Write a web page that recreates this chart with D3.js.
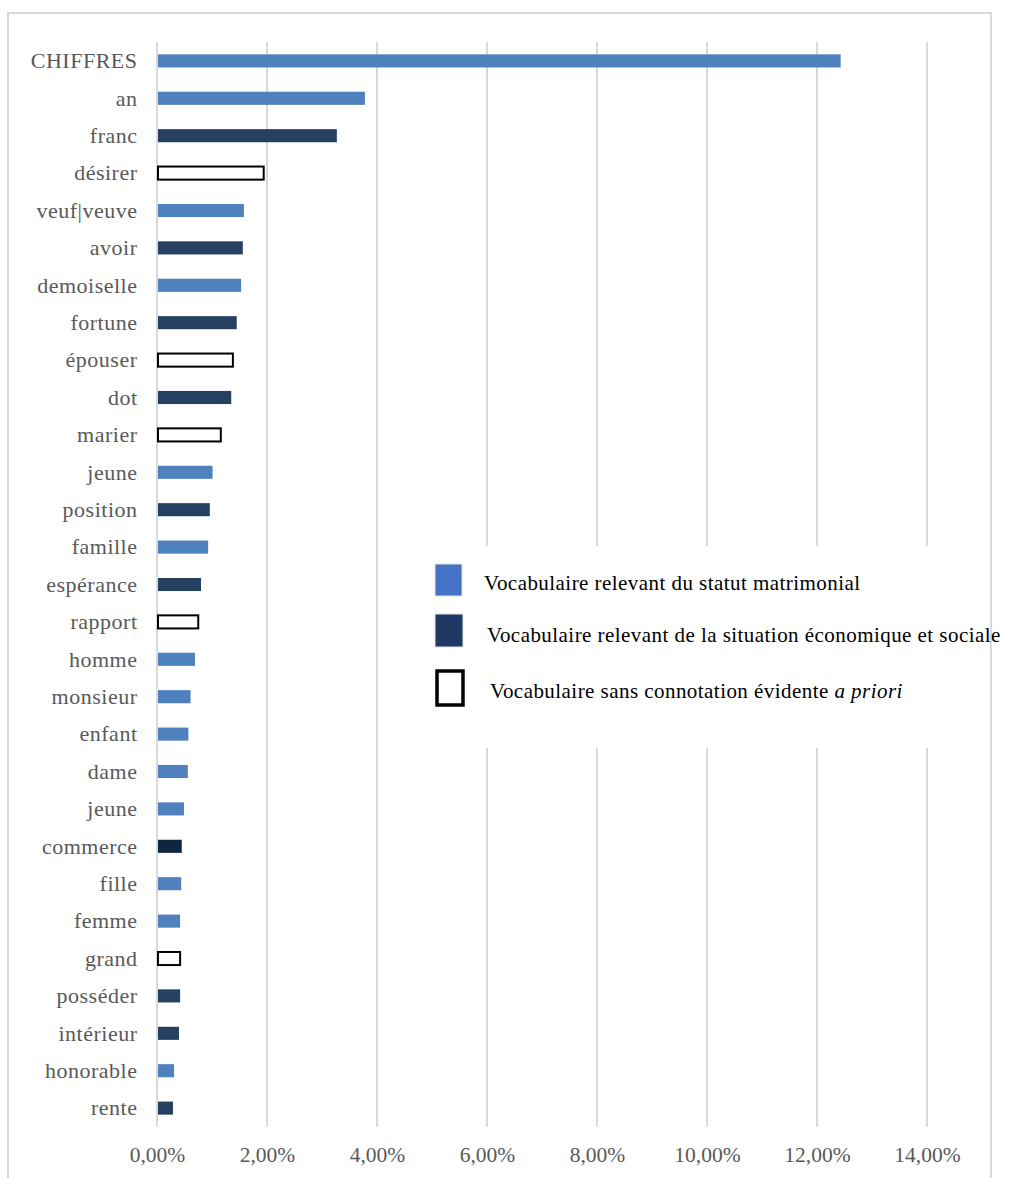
<!DOCTYPE html>
<html><head><meta charset="utf-8">
<script src="https://cdn.jsdelivr.net/npm/d3@7"></script>
<style>body{margin:0;background:#fff}svg{display:block}</style>
</head><body>
<svg id="c" width="1011" height="1178"></svg>
<script>
const categories = ["CHIFFRES","an","franc","désirer","veuf|veuve","avoir","demoiselle","fortune","épouser","dot","marier","jeune","position","famille","espérance","rapport","homme","monsieur","enfant","dame","jeune","commerce","fille","femme","grand","posséder","intérieur","honorable","rente"];
const values = [12.43,3.78,3.27,1.94,1.58,1.56,1.53,1.45,1.38,1.35,1.16,1.01,0.96,0.93,0.80,0.75,0.69,0.61,0.57,0.56,0.49,0.45,0.44,0.42,0.42,0.42,0.40,0.31,0.29];
const types = ["m","m","e","n","m","e","m","e","n","e","n","m","e","m","e","n","m","m","m","m","m","e2","m","m","n","e","e","m","e"];
const ticks = [0,2,4,6,8,10,12,14];
const legendLabels = ["Vocabulaire relevant du statut matrimonial","Vocabulaire relevant de la situation économique et sociale","Vocabulaire sans connotation évidente "];

const fill = {m:"#4F81BD", e:"#254061", e2:"#10253F", n:"#ffffff"};
const svg = d3.select("#c");
const font = "'Liberation Serif','Times New Roman',serif";

// frame
svg.append("rect").attr("x",8).attr("y",13).attr("width",983).attr("height",1180)
  .attr("fill","#fff").attr("stroke","#d9d9d9").attr("stroke-width",2);

const x = d3.scaleLinear().domain([0,14]).range([157,927]);
const y = d3.scaleBand().domain(d3.range(categories.length)).range([42,1127]).paddingInner(0.65).paddingOuter(0.33);

// gridlines
svg.append("g").selectAll("line").data(ticks).join("line")
  .attr("x1",d=>x(d)).attr("x2",d=>x(d)).attr("y1",42).attr("y2",1127)
  .attr("stroke","#d9d9d9").attr("stroke-width",2);

// bars
svg.append("g").selectAll("rect").data(values).join("rect")
  .attr("x",x(0)+1)
  .attr("y",(d,i)=>y(i))
  .attr("width",d=>x(d)-x(0)-1)
  .attr("height",y.bandwidth())
  .attr("fill",(d,i)=>fill[types[i]])
  .attr("stroke",(d,i)=>types[i]==="n"?"#000":"none")
  .attr("stroke-width",2);

// category labels
svg.append("g").selectAll("text").data(categories).join("text")
  .attr("x",137.5).attr("y",(d,i)=>y(i)+y.bandwidth()/2).attr("dy","0.33em")
  .attr("text-anchor","end").attr("font-family",font).attr("font-size",22)
  .attr("letter-spacing","0.5px")
  .attr("fill","#595959").text(d=>d);

// x tick labels
const xAxis = d3.axisBottom(x).tickValues(ticks).tickSize(0).tickPadding(0)
  .tickFormat(d=>d3.format(".2f")(d).replace(".",",")+"%");
const ga = svg.append("g").attr("transform","translate(0,1147)").call(xAxis);
ga.select(".domain").remove();
ga.selectAll("text").attr("font-family",font).attr("font-size",21.5).attr("fill","#595959");

// legend box
svg.append("rect").attr("x",415).attr("y",546).attr("width",575).attr("height",202).attr("fill","#fff");
const lg = svg.append("g");
const sq = [
  {x:435,y:564,w:27,h:32,fill:"#4472C4",stroke:"#e3e3e3",sw:1},
  {x:435,y:614,w:28,h:33,fill:"#1F3864",stroke:"#e3e3e3",sw:1},
  {x:437,y:671,w:26,h:34,fill:"#fff",stroke:"#000",sw:3.5}
];
lg.selectAll("rect").data(sq).join("rect")
  .attr("x",d=>d.x).attr("y",d=>d.y).attr("width",d=>d.w).attr("height",d=>d.h)
  .attr("fill",d=>d.fill).attr("stroke",d=>d.stroke).attr("stroke-width",d=>d.sw);
const lx = [484,487,490], ly = [590,642,698];
lg.selectAll("text").data(legendLabels).join("text")
  .attr("x",(d,i)=>lx[i]).attr("y",(d,i)=>ly[i])
  .attr("font-family",font).attr("font-size",21).attr("letter-spacing","0.45px").attr("fill","#000")
  .each(function(d,i){
    const t=d3.select(this);
    t.append("tspan").text(d);
    if(i===2) t.append("tspan").attr("font-style","italic").text("a priori");
  });
</script>
</body></html>
